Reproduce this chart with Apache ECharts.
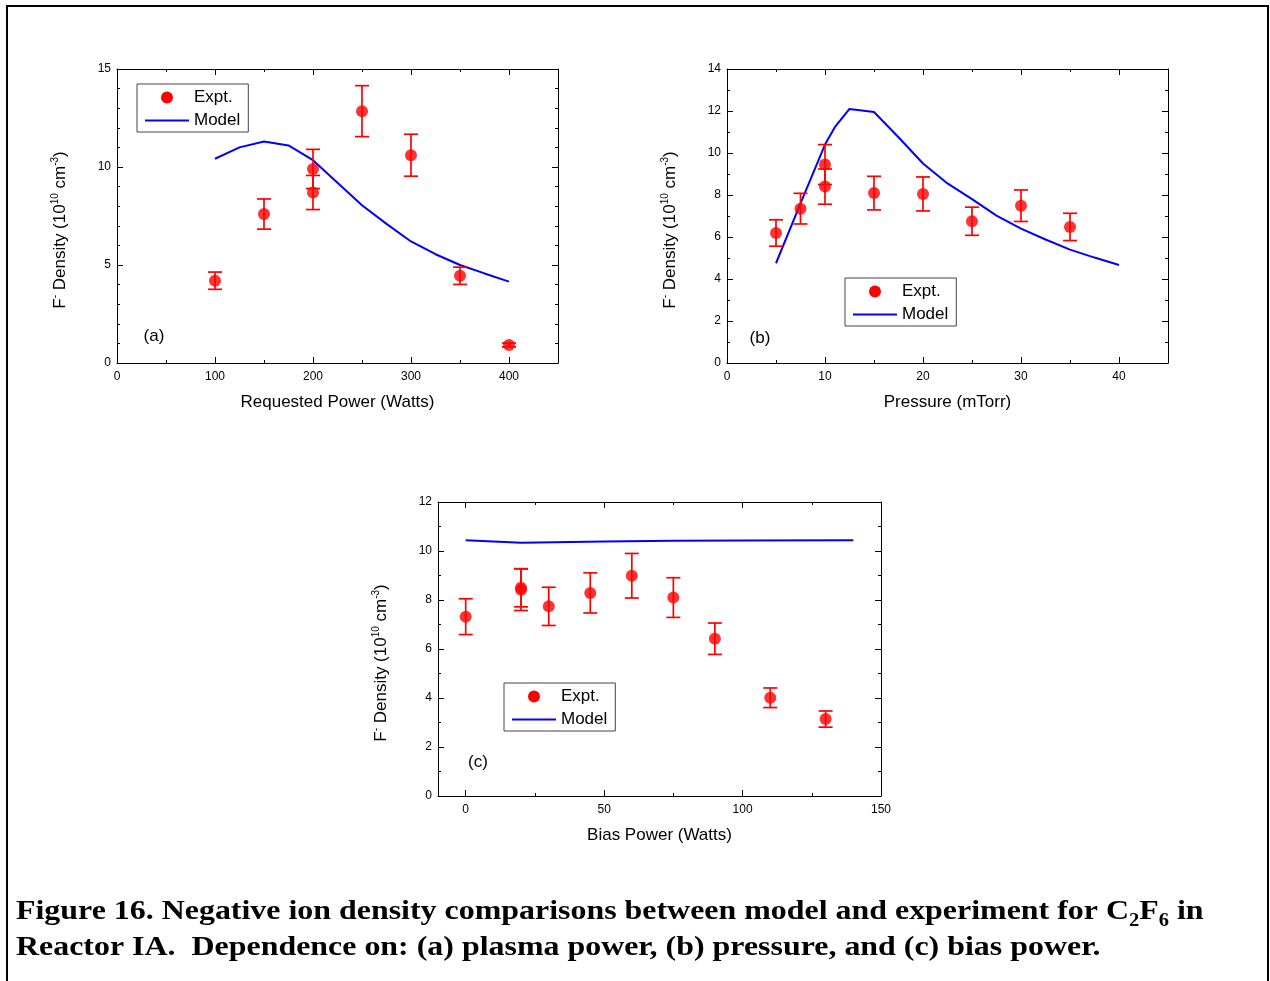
<!DOCTYPE html>
<html>
<head>
<meta charset="utf-8">
<script src="https://cdn.jsdelivr.net/npm/echarts@6/dist/echarts.min.js"></script>
<style>
  html, body { margin: 0; padding: 0; background: #fff; }
  #chart { width: 1270px; height: 981px; }
</style>
</head>
<body>
<div id="chart"></div>
<script>
// (a) F- density vs requested plasma power
const powerX = [100, 150, 200, 200, 250, 300, 350, 400];
const powerDensity = [4.2, 7.6, 9.9, 8.7, 12.85, 10.6, 4.45, 0.92];
const powerError = [0.44, 0.77, 1.0, 0.87, 1.3, 1.07, 0.44, 0.1];
const powerModelX = [100, 125, 150, 175, 200, 225, 250, 275, 300, 325, 350, 375, 400];
const powerModelY = [10.42, 11.0, 11.3, 11.1, 10.35, 9.2, 8.05, 7.1, 6.2, 5.55, 5.0, 4.57, 4.15];
const powerTicks = [0, 100, 200, 300, 400];
const powerMinorTicks = [50, 150, 250, 350];
const powerDensityTicks = [0, 5, 10, 15];
const powerDensityMinorTicks = [1, 2, 3, 4, 6, 7, 8, 9, 11, 12, 13, 14];

// (b) F- density vs pressure
const pressureX = [5, 7.5, 10, 10, 15, 20, 25, 30, 35];
const pressureDensity = [6.19, 7.35, 9.45, 8.4, 8.09, 8.05, 6.75, 7.49, 6.48];
const pressureError = [0.63, 0.73, 0.95, 0.84, 0.8, 0.81, 0.67, 0.75, 0.65];
const pressureModelX = [5, 7.5, 10, 11, 12.5, 15, 17.5, 20, 22.5, 25, 27.5, 30, 32.5, 35, 37.5, 40];
const pressureModelY = [4.75, 7.6, 10.4, 11.23, 12.1, 11.95, 10.75, 9.5, 8.55, 7.8, 7.02, 6.4, 5.88, 5.4, 5.02, 4.67];
const pressureTicks = [0, 10, 20, 30, 40];
const pressureMinorTicks = [5, 15, 25, 35];
const pressureDensityTicks = [0, 2, 4, 6, 8, 10, 12, 14];
const pressureDensityMinorTicks = [1, 3, 5, 7, 9, 11, 13];

// (c) F- density vs bias power
const biasX = [0, 20, 20, 30, 45, 60, 75, 90, 110, 130];
const biasDensity = [7.32, 8.42, 8.5, 7.74, 8.29, 8.99, 8.1, 6.42, 4.01, 3.14];
const biasError = [0.73, 0.85, 0.78, 0.78, 0.82, 0.91, 0.81, 0.64, 0.4, 0.33];
const biasModelX = [0, 20, 50, 75, 100, 140];
const biasModelY = [10.44, 10.34, 10.39, 10.42, 10.43, 10.44];
const biasTicks = [0, 50, 100, 150];
const biasMinorTicks = [25, 75, 125];
const biasDensityTicks = [0, 2, 4, 6, 8, 10, 12];
const biasDensityMinorTicks = [1, 3, 5, 7, 9, 11];

const SANS = 'Liberation Sans, Arial, sans-serif';
const SERIF = 'Liberation Serif, Times New Roman, serif';
const RED = '#ff0000';
const BLUE = '#0000ff';

const chart = echarts.init(document.getElementById('chart'), null, { renderer: 'canvas' });

const densityName = '{m|F}{s|-}{m| Density (10}{s|10}{m| cm}{s|-3}{m|)}';
const nameRich = {
  m: { fontSize: 17, fontFamily: SANS, color: '#000', lineHeight: 20 },
  s: { fontSize: 10, fontFamily: SANS, color: '#000', lineHeight: 11, verticalAlign: 'top' }
};

const blackLine = { show: true, onZero: false, lineStyle: { color: '#000', width: 1 } };
const noLine = { show: false, onZero: false };
const tickLabel = { fontSize: 12, fontFamily: SANS, color: '#000' };

function tickStyle(vals, len) {
  return { show: true, inside: true, length: len, customValues: vals, lineStyle: { color: '#000', width: 1 } };
}

// four x axes per frame: bottom major/minor, top major/minor
function xAxes(gi, min, max, major, minor, name) {
  const base = { type: 'value', gridIndex: gi, min: min, max: max, splitLine: { show: false } };
  return [
    Object.assign({}, base, {
      position: 'bottom', axisLine: blackLine, axisTick: tickStyle(major, 6),
      axisLabel: Object.assign({ customValues: major, margin: 8 }, tickLabel),
      name: name, nameLocation: 'middle', nameGap: 31,
      nameTextStyle: { fontSize: 17, fontFamily: SANS, color: '#000' }
    }),
    Object.assign({}, base, { position: 'bottom', axisLine: noLine, axisTick: tickStyle(minor, 3), axisLabel: { show: false } }),
    Object.assign({}, base, { position: 'top', axisLine: blackLine, axisTick: tickStyle(major, 6), axisLabel: { show: false } }),
    Object.assign({}, base, { position: 'top', axisLine: noLine, axisTick: tickStyle(minor, 3), axisLabel: { show: false } })
  ];
}

// four y axes per frame: left major/minor, right major/minor
function yAxes(gi, min, max, major, minor) {
  const base = { type: 'value', gridIndex: gi, min: min, max: max, splitLine: { show: false } };
  return [
    Object.assign({}, base, {
      position: 'left', axisLine: blackLine, axisTick: tickStyle(major, 6),
      axisLabel: Object.assign({ customValues: major, margin: 6 }, tickLabel),
      name: densityName, nameLocation: 'middle', nameGap: 47,
      nameTextStyle: { rich: nameRich, padding: [0, 28, 0, 0] }
    }),
    Object.assign({}, base, { position: 'left', axisLine: noLine, axisTick: tickStyle(minor, 3), axisLabel: { show: false } }),
    Object.assign({}, base, { position: 'right', axisLine: blackLine, axisTick: tickStyle(major, 6), axisLabel: { show: false } }),
    Object.assign({}, base, { position: 'right', axisLine: noLine, axisTick: tickStyle(minor, 3), axisLabel: { show: false } })
  ];
}

function zip3(a, b, c) { return a.map((v, i) => [v, b[i], c[i]]); }
function zip2(a, b) { return a.map((v, i) => [v, b[i]]); }

function renderErrorBar(params, api) {
  const x = api.value(0), y = api.value(1), e = api.value(2);
  const hi = api.coord([x, y + e]);
  const lo = api.coord([x, y - e]);
  const half = 7;
  const style = { stroke: RED, lineWidth: 1.7 };
  return {
    type: 'group',
    children: [
      { type: 'line', shape: { x1: hi[0], y1: hi[1], x2: lo[0], y2: lo[1] }, style: style },
      { type: 'line', shape: { x1: hi[0] - half, y1: hi[1], x2: hi[0] + half, y2: hi[1] }, style: style },
      { type: 'line', shape: { x1: lo[0] - half, y1: lo[1], x2: lo[0] + half, y2: lo[1] }, style: style }
    ]
  };
}

function panelSeries(axisIndex, ex, ey, ee, mx, my) {
  return [
    {
      name: 'Model', type: 'line', xAxisIndex: axisIndex, yAxisIndex: axisIndex,
      data: zip2(mx, my), symbol: 'none', lineStyle: { color: BLUE, width: 2 },
      itemStyle: { color: BLUE }, animation: false, z: 2
    },
    {
      name: 'Expt.', type: 'custom', xAxisIndex: axisIndex, yAxisIndex: axisIndex,
      data: zip3(ex, ey, ee), renderItem: renderErrorBar, encode: { x: 0, y: 1 },
      itemStyle: { color: RED }, animation: false, z: 3
    },
    {
      name: 'Expt.', type: 'scatter', xAxisIndex: axisIndex, yAxisIndex: axisIndex,
      data: zip2(ex, ey), symbol: 'circle', symbolSize: 12,
      itemStyle: { color: RED }, animation: false, z: 4
    }
  ];
}

function legendAt(left, top) {
  return {
    left: left, top: top, orient: 'vertical',
    data: [
      { name: 'Expt.', icon: 'circle' },
      { name: 'Model', itemStyle: { opacity: 0 } }
    ],
    itemWidth: 44, itemHeight: 12, itemGap: 6,
    padding: [5, 8, 3, 7],
    borderColor: '#444', borderWidth: 1, borderRadius: 0, backgroundColor: '#fff',
    textStyle: { fontSize: 17, fontFamily: SANS, color: '#000' },
    selectedMode: false
  };
}

function panelLabel(text, cx, cy) {
  return {
    type: 'text', x: cx, y: cy,
    style: { text: text, font: '17px ' + SANS, fill: '#000', align: 'center', verticalAlign: 'middle' }
  };
}

const option = {
  backgroundColor: '#fff',
  animation: false,
  grid: [
    { left: 117, top: 69, width: 441, height: 294 },
    { left: 727, top: 69, width: 441, height: 294 },
    { left: 438, top: 502, width: 443, height: 294 }
  ],
  xAxis: [].concat(
    xAxes(0, 0, 450, powerTicks, powerMinorTicks, 'Requested Power (Watts)'),
    xAxes(1, 0, 45, pressureTicks, pressureMinorTicks, 'Pressure (mTorr)'),
    xAxes(2, -10, 150, biasTicks, biasMinorTicks, 'Bias Power (Watts)')
  ),
  yAxis: [].concat(
    yAxes(0, 0, 15, powerDensityTicks, powerDensityMinorTicks),
    yAxes(1, 0, 14, pressureDensityTicks, pressureDensityMinorTicks),
    yAxes(2, 0, 12, biasDensityTicks, biasDensityMinorTicks)
  ),
  legend: [legendAt(137, 84), legendAt(845, 278), legendAt(504, 683)],
  series: [].concat(
    panelSeries(0, powerX, powerDensity, powerError, powerModelX, powerModelY),
    panelSeries(4, pressureX, pressureDensity, pressureError, pressureModelX, pressureModelY),
    panelSeries(8, biasX, biasDensity, biasError, biasModelX, biasModelY)
  ),
  graphic: [
    // page frame
    {
      type: 'rect', shape: { x: 7, y: 6, width: 1261, height: 1000 },
      style: { fill: 'none', stroke: '#000', lineWidth: 2 }, silent: true
    },
    panelLabel('(a)', 154, 336),
    panelLabel('(b)', 760, 338),
    panelLabel('(c)', 478, 762),
    {
      type: 'text', x: 16, y: 894, scaleX: 1.14,
      style: {
        text: '{b|Figure 16. Negative ion density comparisons between model and experiment for C}{s|2}{b|F}{s|6}{b| in}\n' +
              '{b|Reactor IA.  Dependence on: (a) plasma power, (b) pressure, and (c) bias power.}',
        rich: {
          b: { fontSize: 28, fontWeight: 'bold', fontFamily: SERIF, fill: '#000', lineHeight: 36 },
          s: { fontSize: 18, fontWeight: 'bold', fontFamily: SERIF, fill: '#000', lineHeight: 20, verticalAlign: 'bottom' }
        }
      }
    }
  ]
};

chart.setOption(option);
</script>
</body>
</html>
